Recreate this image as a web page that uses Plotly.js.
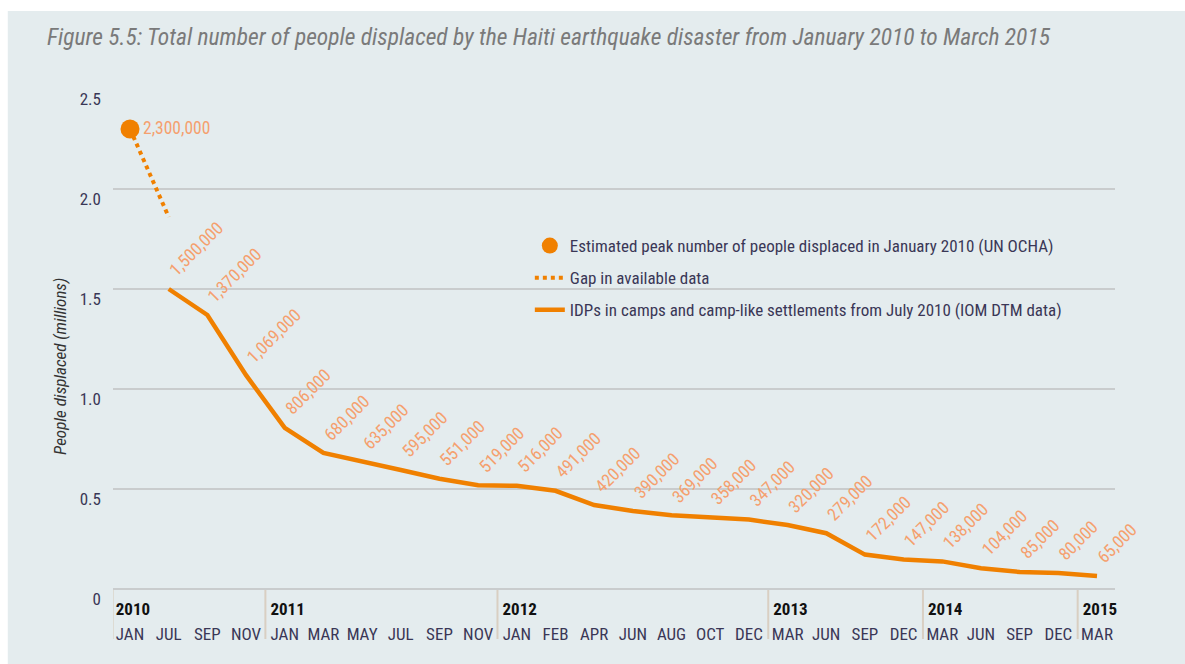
<!DOCTYPE html>
<html>
<head>
<meta charset="utf-8">
<script src="https://cdn.plot.ly/plotly-3.0.1.min.js"></script>
<style>html,body{margin:0;padding:0;background:#fff;}#chart{width:1185px;height:664px;}</style>
</head>
<body>
<div id="chart"></div>
<script>
// ---- data ----
const monthLabels = ['JAN','JUL','SEP','NOV','JAN','MAR','MAY','JUL','SEP','NOV','JAN','FEB','APR','JUN','AUG','OCT','DEC','MAR','JUN','SEP','DEC','MAR','JUN','SEP','DEC','MAR'];
const yearLabels = ['2010','2011','2012','2013','2014','2015'];
const yearStartIndex = [0, 4, 10, 17, 21, 25];
const peakIndex = [0];
const peakValue = [2300000];
const gapIndex = [0, 1];
const gapValue = [2300000, 1860000];
const idpIndex = [1,2,3,4,5,6,7,8,9,10,11,12,13,14,15,16,17,18,19,20,21,22,23,24,25];
const idpValue = [1500000,1370000,1069000,806000,680000,635000,595000,551000,519000,516000,491000,420000,390000,369000,358000,347000,320000,279000,172000,147000,138000,104000,85000,80000,65000];
const yTickVals = [0, 0.5, 1.0, 1.5, 2.0, 2.5];
const yTickText = ['0', '0.5', '1.0', '1.5', '2.0', '2.5'];

const FONT = '"Liberation Sans Narrow", "Arial Narrow", "Roboto Condensed", Roboto, "Liberation Sans", Arial, sans-serif';
const ORANGE = '#f08000';
const LABEL = '#f5a06e';
const TEXT = '#3a3756';
const toM = v => v / 1e6;
const fmt = v => v.toLocaleString('en-US');

const traces = [
  {
    x: gapIndex, y: gapValue.map(toM), type: 'scatter', mode: 'lines',
    name: 'Gap in available data',
    line: {color: ORANGE, width: 4, dash: 'dot'},
    legendrank: 2, legendgroup: 'g2'
  },
  {
    x: idpIndex, y: idpValue.map(toM), type: 'scatter', mode: 'lines',
    name: 'IDPs in camps and camp-like settlements from July 2010 (IOM DTM data)',
    line: {color: ORANGE, width: 4.5},
    legendrank: 3, legendgroup: 'g3'
  },
  {
    x: peakIndex, y: peakValue.map(toM), type: 'scatter', mode: 'markers',
    xaxis: 'x2', yaxis: 'y',
    name: 'Estimated peak number of people displaced in January 2010 (UN OCHA)',
    marker: {color: ORANGE, size: 19},
    legendrank: 1, legendgroup: 'g1'
  }
];

const annotations = [];
idpIndex.forEach((xi, i) => {
  annotations.push({
    x: xi, y: toM(idpValue[i]), xref: 'x', yref: 'y',
    text: fmt(idpValue[i]), showarrow: false, textangle: -45,
    xanchor: 'left', yanchor: 'bottom', xshift: -6, yshift: 6,
    font: {family: FONT, size: 17.5, color: LABEL}
  });
});
annotations.push({
  x: peakIndex[0], y: toM(peakValue[0]), xref: 'x', yref: 'y',
  text: fmt(peakValue[0]), showarrow: false,
  xanchor: 'left', yanchor: 'middle', xshift: 11, yshift: 1,
  font: {family: FONT, size: 17.5, color: LABEL}
});
annotations.push({
  x: -0.053, y: 0.446, xref: 'paper', yref: 'paper',
  text: 'People displaced (millions)', showarrow: false, textangle: -90,
  xanchor: 'center', yanchor: 'middle',
  font: {family: FONT, size: 17, color: '#333333', style: 'italic'}
});

const shapes = [
  {type: 'rect', xref: 'paper', yref: 'paper', x0: -0.105, x1: 1.08, y0: -0.2, y1: 1.156,
   fillcolor: '#e4ecee', line: {width: 0}, layer: 'below'}
];
yearStartIndex.forEach((yi, i) => {
  const xs = i === 0 ? yi - 0.45 : yi - 0.5;
  shapes.push({type: 'line', xref: 'x', yref: 'paper', x0: xs, x1: xs, y0: 0, y1: -0.1,
    line: {color: '#d9cfc2', width: 2}, layer: 'below'});
});

const layout = {
  width: 1185, height: 664,
  margin: {l: 113, r: 70, t: 89, b: 75},
  paper_bgcolor: '#ffffff',
  plot_bgcolor: 'rgba(0,0,0,0)',
  font: {family: FONT, color: TEXT},
  title: {
    text: 'Figure 5.5: Total number of people displaced by the Haiti earthquake disaster from January 2010 to March 2015',
    x: 47 / 1185, xanchor: 'left', xref: 'container',
    y: 1 - 37 / 664, yanchor: 'middle', yref: 'container',
    font: {family: FONT, size: 23.5, color: '#7a7a7a', style: 'italic'}
  },
  xaxis: {
    range: [-0.44, 25.465],
    tickvals: monthLabels.map((m, i) => i),
    ticktext: monthLabels,
    showgrid: false, zeroline: false, showline: false, ticks: '',
    ticklabelstandoff: 33,
    tickfont: {family: FONT, size: 17, color: TEXT},
    fixedrange: true
  },
  xaxis2: {
    overlaying: 'x', anchor: 'y', side: 'bottom',
    range: [-0.44, 25.465],
    tickvals: yearStartIndex.map(v => v - 0.37),
    ticktext: yearLabels.map(y => '<b>' + y + '</b>'),
    ticklabelposition: 'outside right',
    showgrid: false, zeroline: false, showline: false, ticks: '',
    ticklabelstandoff: 8,
    tickfont: {family: FONT, size: 17, color: '#111111'},
    fixedrange: true
  },
  yaxis: {
    range: [0, 2.5],
    tickvals: yTickVals, ticktext: yTickText,
    showgrid: true, gridcolor: '#c9cccd', gridwidth: 1.5,
    zeroline: true, zerolinecolor: '#c9cccd', zerolinewidth: 1.5,
    showline: false, ticks: '',
    ticklabelshift: 10,
    ticklabelstandoff: 11,
    tickfont: {family: FONT, size: 17, color: TEXT},
    fixedrange: true
  },
  showlegend: true,
  legend: {
    x: 0.416, y: 0.722, xanchor: 'left', yanchor: 'top',
    bgcolor: 'rgba(0,0,0,0)', borderwidth: 0,
    tracegroupgap: 7,
    font: {family: FONT, size: 17, color: TEXT}
  },
  annotations: annotations,
  shapes: shapes,
  hovermode: false
};

Plotly.newPlot('chart', traces, layout, {displayModeBar: false, staticPlot: true});
</script>
</body>
</html>
